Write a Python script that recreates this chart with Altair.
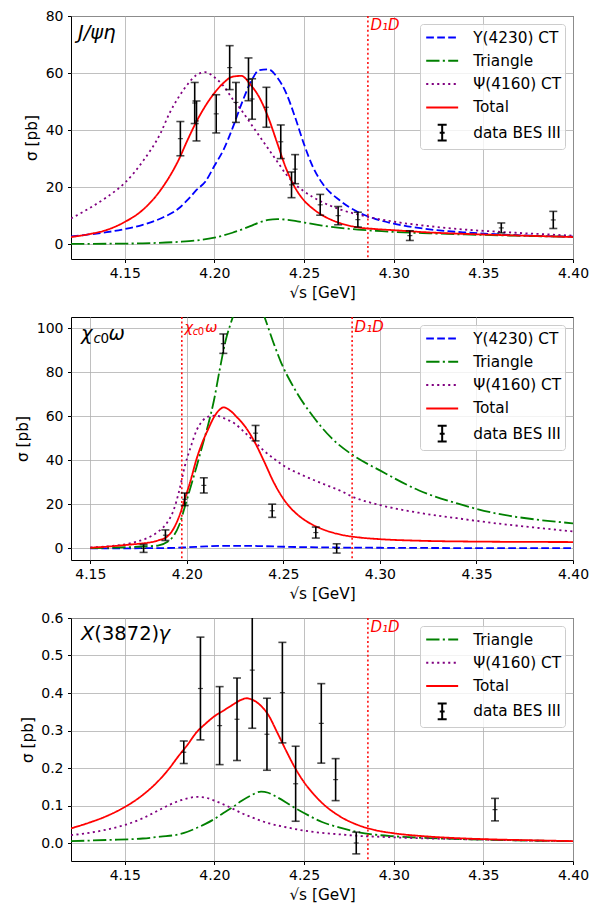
import altair as alt
import pandas as pd

FONT = "DejaVu Sans"
W = 502
H = 243

BLUE, GREEN, PURPLE, RED = "#0000ff", "#008000", "#800080", "#ff0000"
DASH = [7.7, 3.3]
DASHDOT = [13.3, 3.3, 2.1, 3.3]
DOT = [2.1, 3.4]
SOLID = [1, 0]

X_TICKS = [4.15, 4.20, 4.25, 4.30, 4.35, 4.40]
D1D = 4.2856
CHIC0OMEGA = 4.1974

# ---------------- Panel 1: J/psi eta ----------------
p1_data_x = [4.181, 4.189, 4.190, 4.201, 4.2085, 4.212, 4.219, 4.221, 4.229, 4.237,
             4.243, 4.245, 4.259, 4.269, 4.280, 4.309, 4.360, 4.389]
p1_data_y = [37.0, 49.5, 43.2, 45.7, 61.9, 49.7, 57.8, 50.9, 48.0, 35.9,
             20.8, 26.3, 13.8, 10.0, 8.6, 3.0, 5.7, 8.5]
p1_data_err = [6.0, 7.2, 7.0, 6.7, 7.7, 7.0, 7.5, 7.1, 7.0, 5.9,
               4.5, 5.1, 3.65, 3.2, 2.6, 1.7, 1.74, 3.0]

p1_total_x = [4.12, 4.13, 4.14, 4.15, 4.16, 4.17, 4.18, 4.185, 4.19, 4.195, 4.20, 4.205,
              4.21, 4.215, 4.22, 4.225, 4.23, 4.235, 4.24, 4.245, 4.25, 4.255, 4.26,
              4.265, 4.27, 4.28, 4.29, 4.30, 4.32, 4.34, 4.36, 4.38, 4.40]
p1_total_y = [2.5, 3.5, 5.0, 7.8, 12.0, 19.0, 29.5, 36.5, 43.0, 48.5, 53.0, 56.5,
              58.7, 59.0, 56.0, 51.5, 44.5, 35.5, 26.5, 19.8, 15.3, 12.4, 10.2,
              8.6, 7.4, 5.9, 5.3, 4.9, 4.1, 3.6, 3.2, 2.85, 2.5]

p1_y4230_x = [4.12, 4.13, 4.14, 4.15, 4.16, 4.17, 4.18, 4.185, 4.19, 4.195, 4.20, 4.205,
              4.21, 4.215, 4.22, 4.225, 4.23, 4.235, 4.24, 4.245, 4.25, 4.255, 4.26,
              4.27, 4.28, 4.29, 4.30, 4.32, 4.34, 4.36, 4.38, 4.40]
p1_y4230_y = [2.7, 3.4, 4.2, 5.3, 6.8, 9.0, 12.5, 15.5, 19.0, 22.0, 27.5, 33.0,
              40.5, 49.0, 56.5, 61.0, 61.3, 58.5, 53.0, 44.5, 35.0, 27.0, 21.5,
              15.3, 11.3, 8.8, 7.2, 5.2, 4.1, 3.4, 2.9, 2.6]

p1_psi_x = [4.12, 4.13, 4.14, 4.15, 4.16, 4.17, 4.175, 4.18, 4.185, 4.19, 4.195, 4.20,
            4.205, 4.21, 4.215, 4.22, 4.225, 4.23, 4.235, 4.24, 4.245, 4.25, 4.26,
            4.27, 4.28, 4.29, 4.30, 4.32, 4.34, 4.36, 4.38, 4.40]
p1_psi_y = [9.0, 12.5, 16.5, 21.5, 29.0, 39.0, 46.0, 51.5, 56.0, 59.3, 60.3, 58.5,
            55.5, 51.0, 47.0, 42.5, 38.0, 33.5, 29.0, 24.5, 21.0, 18.5, 14.8,
            12.2, 10.4, 9.0, 7.9, 6.3, 5.1, 4.3, 3.6, 3.0]

p1_tri_x = [4.12, 4.14, 4.16, 4.18, 4.19, 4.20, 4.21, 4.22, 4.225, 4.23, 4.235, 4.24,
            4.245, 4.25, 4.26, 4.27, 4.28, 4.29, 4.30, 4.32, 4.34, 4.36, 4.38, 4.40]
p1_tri_y = [0.1, 0.15, 0.3, 0.8, 1.3, 2.3, 4.0, 6.3, 7.6, 8.5, 8.8, 8.6,
            8.2, 7.6, 6.5, 5.7, 5.1, 4.7, 4.3, 3.8, 3.4, 3.1, 2.8, 2.6]

# ---------------- Panel 2: chi_c0 omega ----------------
p2_data_x = [4.1776, 4.1889, 4.1989, 4.2088, 4.2189, 4.2356, 4.2442, 4.2668, 4.2776]
p2_data_y = [0.0, 6.0, 22.3, 28.6, 92.9, 52.3, 17.1, 7.2, 0.0]
p2_data_err = [1.8, 2.4, 2.85, 3.45, 4.4, 3.5, 3.0, 2.5, 2.1]

p2_total_x = [4.15, 4.16, 4.17, 4.175, 4.18, 4.185, 4.19, 4.193, 4.196, 4.199, 4.202,
              4.205, 4.208, 4.211, 4.214, 4.217, 4.219, 4.222, 4.226, 4.23, 4.235,
              4.24, 4.245, 4.25, 4.255, 4.26, 4.265, 4.27, 4.28, 4.29, 4.30, 4.32,
              4.35, 4.40]
p2_total_y = [0.3, 0.9, 1.7, 2.1, 2.6, 3.6, 5.5, 8.8, 14.5, 22.5, 31.0,
              40.5, 48.0, 54.0, 59.5, 63.0, 64.0, 62.8, 59.5, 55.5, 48.5,
              39.5, 30.0, 22.5, 17.2, 13.5, 10.8, 8.8, 6.2, 4.9, 4.2, 3.5,
              3.1, 2.9]

p2_y4230_x = [4.15, 4.19, 4.20, 4.21, 4.22, 4.23, 4.24, 4.26, 4.28, 4.30, 4.35, 4.40]
p2_y4230_y = [0.0, 0.2, 0.5, 0.9, 1.2, 1.2, 1.0, 0.6, 0.4, 0.3, 0.15, 0.1]

p2_psi_x = [4.15, 4.16, 4.17, 4.175, 4.18, 4.185, 4.19, 4.193, 4.196, 4.199, 4.202,
            4.205, 4.208, 4.212, 4.215, 4.22, 4.225, 4.23, 4.235, 4.24, 4.245,
            4.25, 4.26, 4.27, 4.28, 4.286, 4.30, 4.32, 4.34, 4.36, 4.38, 4.40]
p2_psi_y = [0.5, 1.0, 2.2, 3.3, 4.9, 7.5, 12.0, 17.0, 26.0, 37.5, 46.0,
            53.5, 57.8, 60.0, 60.2, 58.8, 56.5, 52.6, 48.5, 44.3, 40.8,
            37.6, 33.2, 29.5, 26.0, 23.4, 19.7, 16.2, 13.7, 11.4, 9.5, 7.7]

p2_tri_x = [4.15, 4.16, 4.17, 4.18, 4.185, 4.19, 4.193, 4.196, 4.199, 4.202, 4.205,
            4.208, 4.211, 4.214, 4.217, 4.22, 4.2225, 4.226, 4.23, 4.234, 4.238,
            4.2402, 4.245, 4.2485, 4.2554, 4.2657, 4.275, 4.2855, 4.30, 4.32,
            4.34, 4.36, 4.38, 4.40]
p2_tri_y = [0.1, 0.3, 0.6, 1.0, 1.3, 3.0, 5.5, 10.5, 19.0, 28.0, 37.0,
            46.5, 56.0, 67.0, 81.0, 94.0, 101.5, 110.0, 116.0, 117.0, 110.0,
            105.0, 93.0, 85.0, 73.0, 59.5, 50.0, 42.6, 35.4, 26.4,
            20.4, 15.9, 13.2, 11.4]

# ---------------- Panel 3: X(3872) gamma ----------------
p3_data_x = [4.1829, 4.1922, 4.2029, 4.2126, 4.2211, 4.2293, 4.2379, 4.2453,
             4.2596, 4.2676, 4.2791, 4.3565]
p3_data_y = [0.242, 0.412, 0.313, 0.330, 0.461, 0.290, 0.401, 0.158,
             0.319, 0.169, 0.0, 0.089]
p3_data_err = [0.030, 0.137, 0.104, 0.110, 0.155, 0.096, 0.134, 0.100,
               0.106, 0.056, 0.029, 0.030]

p3_total_x = [4.12, 4.13, 4.14, 4.15, 4.16, 4.17, 4.175, 4.18, 4.185, 4.19, 4.195,
              4.20, 4.205, 4.21, 4.215, 4.218, 4.22, 4.225, 4.23, 4.235, 4.24,
              4.245, 4.25, 4.255, 4.26, 4.27, 4.28, 4.29, 4.30, 4.32, 4.34, 4.36,
              4.38, 4.40]
p3_total_y = [0.039, 0.054, 0.072, 0.096, 0.128, 0.172, 0.200, 0.232, 0.262, 0.295,
              0.318, 0.338, 0.353, 0.368, 0.382, 0.386, 0.384, 0.370, 0.342, 0.295,
              0.246, 0.200, 0.162, 0.132, 0.107, 0.071, 0.048, 0.034, 0.026, 0.017,
              0.012, 0.009, 0.007, 0.005]

p3_psi_x = [4.12, 4.13, 4.14, 4.15, 4.16, 4.17, 4.175, 4.18, 4.185, 4.19, 4.195,
            4.20, 4.205, 4.21, 4.215, 4.22, 4.23, 4.24, 4.25, 4.26, 4.27, 4.28,
            4.29, 4.30, 4.32, 4.34, 4.36, 4.38, 4.40]
p3_psi_y = [0.021, 0.027, 0.036, 0.048, 0.066, 0.090, 0.102, 0.112, 0.119, 0.123,
            0.121, 0.113, 0.103, 0.092, 0.080, 0.070, 0.053, 0.042, 0.033, 0.027,
            0.023, 0.019, 0.017, 0.015, 0.012, 0.010, 0.008, 0.006, 0.005]

p3_tri_x = [4.12, 4.14, 4.16, 4.17, 4.18, 4.185, 4.19, 4.195, 4.20, 4.205, 4.21,
            4.215, 4.22, 4.226, 4.23, 4.235, 4.24, 4.245, 4.25, 4.26, 4.27, 4.28,
            4.29, 4.30, 4.32, 4.34, 4.36, 4.38, 4.40]
p3_tri_y = [0.005, 0.008, 0.012, 0.017, 0.023, 0.030, 0.040, 0.051, 0.064, 0.080,
            0.095, 0.112, 0.126, 0.137, 0.134, 0.122, 0.108, 0.093, 0.080, 0.056,
            0.041, 0.029, 0.022, 0.018, 0.013, 0.010, 0.008, 0.006, 0.005]

# legend entries
NAMES_FULL = ["Y(4230) CT", "Triangle", "Ψ(4160) CT", "Total", "data BES III"]
COLORS_FULL = [BLUE, GREEN, PURPLE, RED, "black"]
DASHES_FULL = [DASH, DASHDOT, DOT, SOLID, SOLID]
LINE_PATH = "M-1,0L2.55,0"
ERR_PATH = ("M0.775,-0.87L0.775,0.87M0.275,-0.87L1.275,-0.87"
            "M0.275,0.87L1.275,0.87M0.5,0L1.05,0")
SHAPES_FULL = [LINE_PATH, LINE_PATH, LINE_PATH, LINE_PATH, ERR_PATH]

LABEL_FS = 15.3


def make_panel(xdom, ydom, yticks, yfmt, ytitle_x, curves, thresholds,
               data_x, data_y, data_err, annots, legend_idx):
    xaxis = alt.Axis(values=X_TICKS, format=".2f", title="√s [GeV]", labelFlush=False,
                     titlePadding=5, labelPadding=4)
    yaxis = alt.Axis(values=yticks, format=yfmt, title="σ [pb]", titleX=ytitle_x,
                     titleY=H / 2, titleAngle=270, titleBaseline="middle",
                     titleAlign="center", labelPadding=4.5)
    xs = alt.Scale(domain=xdom, nice=False, zero=False)
    ys = alt.Scale(domain=ydom, nice=False, zero=False)

    def X(f="x"):
        return alt.X(f"{f}:Q", scale=xs, axis=xaxis)

    def Y(f="y"):
        return alt.Y(f"{f}:Q", scale=ys, axis=yaxis)

    layers = []
    for cx, cy, col, dash in curves:
        df = pd.DataFrame({"x": cx, "y": cy})
        layers.append(alt.Chart(df).mark_line(color=col, strokeDash=dash, strokeWidth=1.8,
                                              interpolate="monotone", clip=True)
                      .encode(x=X(), y=Y()))
    tdf = pd.DataFrame({"x": thresholds})
    layers.append(alt.Chart(tdf).mark_rule(color=RED, strokeDash=[2, 2.6], strokeWidth=1.5)
                  .encode(x=X()))

    edf = pd.DataFrame({"x": data_x, "y": data_y,
                        "lo": [a - b for a, b in zip(data_y, data_err)],
                        "hi": [a + b for a, b in zip(data_y, data_err)]})
    eb = alt.Chart(edf)
    layers.append(eb.mark_rule(color="black", strokeWidth=1.6, clip=True)
                  .encode(x=X(), y=Y("lo"), y2=alt.Y2("hi:Q")))
    for f in ["lo", "hi"]:
        layers.append(eb.mark_tick(orient="horizontal", color="black", size=8, thickness=1.6,
                                   clip=True).encode(x=X(), y=Y(f)))
    layers.append(eb.mark_tick(orient="horizontal", color="black", size=5, thickness=1.2,
                               clip=True).encode(x=X(), y=Y()))

    for (ax, ay, txt, size, style, col, dx, dy) in annots:
        adf = pd.DataFrame({"x": [ax], "y": [ay], "t": [txt]})
        layers.append(alt.Chart(adf).mark_text(align="left", baseline="alphabetic",
                                               font=FONT, fontSize=size, fontStyle=style,
                                               color=col, dx=dx, dy=dy)
                      .encode(x=X(), y=Y(), text="t:N"))

    names = [NAMES_FULL[i] for i in legend_idx]
    leg = alt.Legend(orient="top-right", offset=8, title=None, symbolSize=324,
                     symbolStrokeWidth=2, labelFontSize=LABEL_FS, labelFont=FONT,
                     labelColor="black", labelOffset=28, symbolOffset=1.7,
                     rowPadding=4.3, padding=3.5, fillColor="rgba(255,255,255,0.8)",
                     strokeColor="#cccccc", cornerRadius=3, labelLimit=300)
    ldf = pd.DataFrame({"series": names, "x": [0.0] * len(names), "y": [0.0] * len(names)})
    layers.append(alt.Chart(ldf).mark_point(clip=True, opacity=1, filled=False)
                  .encode(x=X(), y=Y(),
                          color=alt.Color("series:N", legend=leg,
                                          scale=alt.Scale(domain=names,
                                                          range=[COLORS_FULL[i] for i in legend_idx])),
                          shape=alt.Shape("series:N", legend=leg,
                                          scale=alt.Scale(domain=names,
                                                          range=[SHAPES_FULL[i] for i in legend_idx])),
                          strokeDash=alt.StrokeDash("series:N", legend=leg,
                                                    scale=alt.Scale(domain=names,
                                                                    range=[DASHES_FULL[i] for i in legend_idx]))))
    return alt.layer(*layers).properties(width=W, height=H)


p1 = make_panel(
    [4.12, 4.40], [-5.2, 80], [0, 20, 40, 60, 80], "d", -40,
    [(p1_y4230_x, p1_y4230_y, BLUE, DASH), (p1_tri_x, p1_tri_y, GREEN, DASHDOT),
     (p1_psi_x, p1_psi_y, PURPLE, DOT), (p1_total_x, p1_total_y, RED, SOLID)],
    [D1D], p1_data_x, p1_data_y, p1_data_err,
    [(4.1239, 71.8, "J/ψη", 19.5, "italic", "black", 0, 0),
     (D1D, 75.2, "D₁D", 15, "italic", RED, 2.5, 0)],
    [0, 1, 2, 3, 4])

p2 = make_panel(
    [4.14, 4.40], [-5.25, 105], [0, 20, 40, 60, 80, 100], "d", -49,
    [(p2_y4230_x, p2_y4230_y, BLUE, DASH), (p2_tri_x, p2_tri_y, GREEN, DASHDOT),
     (p2_psi_x, p2_psi_y, PURPLE, DOT), (p2_total_x, p2_total_y, RED, SOLID)],
    [CHIC0OMEGA, D1D], p2_data_x, p2_data_y, p2_data_err,
    [(4.1452, 94.6, "χ", 19.5, "italic", "black", 0, 0),
     (4.1452, 94.6, "c", 13.5, "italic", "black", 12.5, 3),
     (4.1452, 94.6, "0", 13.5, "normal", "black", 19.5, 3),
     (4.1452, 94.6, "ω", 19.5, "italic", "black", 27.5, 0),
     (CHIC0OMEGA, 98.1, "χ", 14.5, "italic", RED, 2.6, 0),
     (CHIC0OMEGA, 98.1, "c", 10, "italic", RED, 11, 2.5),
     (CHIC0OMEGA, 98.1, "0", 10, "normal", RED, 16, 2.5),
     (CHIC0OMEGA, 98.1, "ω", 14.5, "italic", RED, 23.3, 0),
     (D1D, 98.1, "D₁D", 15, "italic", RED, 2.5, 0)],
    [0, 1, 2, 3, 4])

p3 = make_panel(
    [4.12, 4.40], [-0.048, 0.6], [0.0, 0.1, 0.2, 0.3, 0.4, 0.5, 0.6], ".1f", -44,
    [(p3_tri_x, p3_tri_y, GREEN, DASHDOT), (p3_psi_x, p3_psi_y, PURPLE, DOT),
     (p3_total_x, p3_total_y, RED, SOLID)],
    [D1D], p3_data_x, p3_data_y, p3_data_err,
    [(4.1256, 0.5424, "X", 19.5, "italic", "black", 0, 0),
     (4.1256, 0.5424, "(3872)", 19.5, "normal", "black", 13.3, 0),
     (4.1256, 0.5424, "γ", 19.5, "italic", "black", 77.5, 0),
     (D1D, 0.563, "D₁D", 15, "italic", RED, 2.5, 0)],
    [1, 2, 3, 4])

chart = (alt.vconcat(p1, p2, p3, spacing=58, bounds="flush")
         .resolve_scale(x="independent", y="independent", color="independent",
                        shape="independent", strokeDash="independent")
         .resolve_legend(color="independent", shape="independent", strokeDash="independent")
         .properties(padding={"left": 6, "top": 0, "right": 5, "bottom": 0})
         .configure_view(stroke="black", strokeWidth=1)
         .configure_axis(labelFont=FONT, labelFontSize=14, labelColor="black",
                         titleFont=FONT, titleFontSize=LABEL_FS, titleFontWeight="normal",
                         titleColor="black", tickColor="black", tickSize=3.5, tickWidth=1,
                         domain=False, grid=True, gridColor="#b0b0b0", gridWidth=0.8))

chart.save("out.html", embed_options={"renderer": "svg", "actions": False})
